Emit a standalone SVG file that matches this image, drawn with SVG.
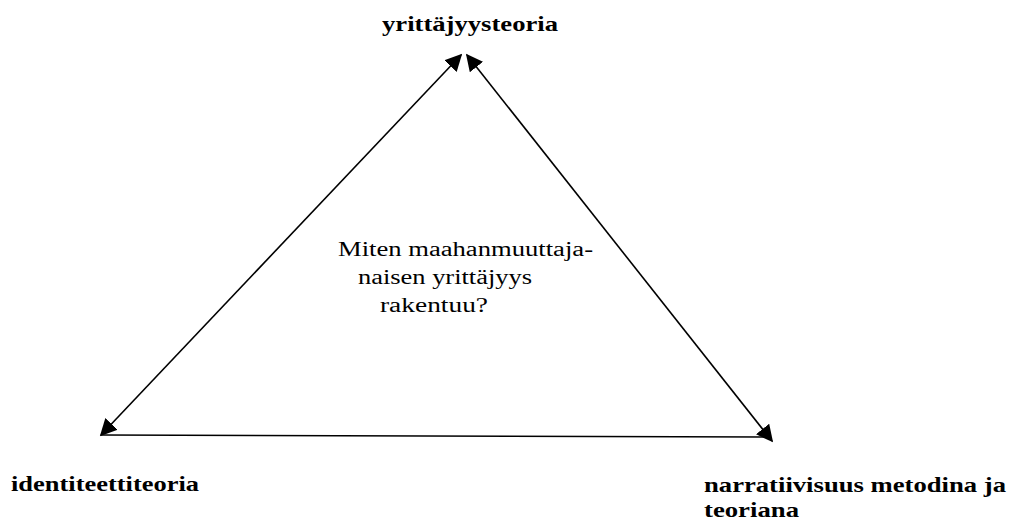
<svg xmlns="http://www.w3.org/2000/svg" width="1012" height="525" viewBox="0 0 1012 525">
<style>
.lbl{font-family:"Liberation Serif",serif;font-weight:bold;font-size:22px;fill:#000}
.q{font-family:"Liberation Serif",serif;font-size:20px;fill:#000}
.c{stroke:#000;stroke-width:1.6;fill:none}
.a{marker-start:url(#ah);marker-end:url(#ah)}
</style>
<defs>
<marker id="ah" viewBox="0 0 10 10" refX="9" refY="5" markerWidth="17" markerHeight="17" markerUnits="userSpaceOnUse" orient="auto-start-reverse">
<path d="M0,0 L10,5 L0,10 z" fill="#000"/>
</marker>
</defs>
<g id="connectors">
<line class="c a" x1="101" y1="435" x2="461" y2="55"/>
<line class="c a" x1="467" y1="55" x2="772" y2="441"/>
<line class="c" x1="101" y1="435" x2="772" y2="437"/>
</g>
<g id="top"><text class="lbl" x="382" y="31" textLength="176" lengthAdjust="spacingAndGlyphs">yrittäjyysteoria</text></g>
<g id="left"><text class="lbl" x="11" y="491" textLength="188" lengthAdjust="spacingAndGlyphs">identiteettiteoria</text></g>
<g id="right"><text class="lbl" x="704" y="492" textLength="302" lengthAdjust="spacingAndGlyphs">narratiivisuus metodina ja</text><text class="lbl" x="704" y="517" textLength="95" lengthAdjust="spacingAndGlyphs">teoriana</text></g>
<g id="center">
<text class="q" x="338" y="256" textLength="255" lengthAdjust="spacingAndGlyphs">Miten maahanmuuttaja-</text>
<text class="q" x="358" y="284" textLength="174" lengthAdjust="spacingAndGlyphs">naisen yrittäjyys</text>
<text class="q" x="380" y="312" textLength="108" lengthAdjust="spacingAndGlyphs">rakentuu?</text>
</g>
</svg>
